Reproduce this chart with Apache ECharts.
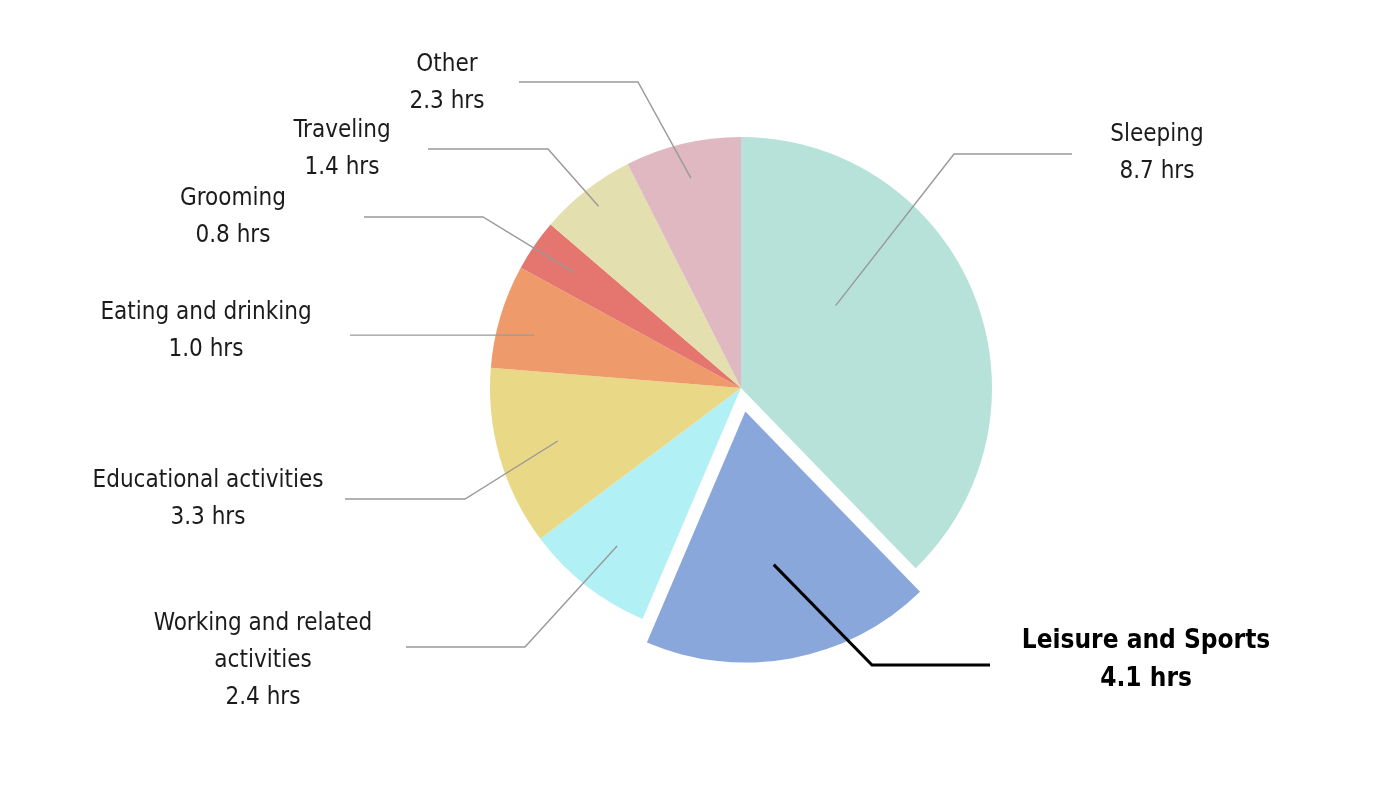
<!DOCTYPE html>
<html>
<head>
<meta charset="utf-8">
<title>Hours per day</title>
<script src="https://cdn.jsdelivr.net/npm/echarts@6/dist/echarts.min.js"></script>
<style>
html, body { margin: 0; padding: 0; background: #fff; }
#main { width: 1396px; height: 794px; }
</style>
</head>
<body>
<div id="main"></div>
<script>
// slices, clockwise from 12 o'clock
var activities = ['Sleeping', 'Leisure and Sports', 'Working and related\nactivities', 'Educational activities',
	'Eating and drinking', 'Grooming', 'Traveling', 'Other'];
// hours printed on the labels
var labelHours = [8.7, 4.1, 2.4, 3.3, 1.0, 0.8, 1.4, 2.3];
// hours as drawn
var sliceHours = [9.06, 4.48, 2.0, 2.77, 1.6, 0.8, 1.5, 1.79];
var highlight = 1;

var palette = ['#b6e2da', '#8aa7db', '#b1f0f5', '#e9d986', '#ef9a6b', '#e4766f', '#e4dfae', '#e0b8c2'];

// label placement: f = line start as fraction of radius, turn = degrees away from mid angle,
// elbow (null = straight line), end x of the line, text centre
var spots = [
	{ f: 0.50, turn: -19, elbow: [954, 154], endX: 1072, text: [1157, 153] },
	{ f: 0.62, turn: 0,   elbow: [872, 665], endX: 990,  text: [1146, 660] },
	{ f: 0.80, turn: 0,   elbow: [525, 647], endX: 406,  text: [263, 661] },
	{ f: 0.76, turn: 0,   elbow: [465, 499], endX: 345,  text: [208, 499] },
	{ f: 0.85, turn: -2.3, elbow: null,      endX: 350,  text: [206, 331] },
	{ f: 0.81, turn: 0,   elbow: [483, 217], endX: 364,  text: [233, 217] },
	{ f: 0.92, turn: 0,   elbow: [548, 149], endX: 428,  text: [342, 149] },
	{ f: 0.86, turn: 0,   elbow: [638, 82],  endX: 519,  text: [447, 83] }
];

var FONT = "'Liberation Sans Narrow', 'DejaVu Sans Condensed', 'Roboto', sans-serif";
var CX = 741, CY = 388, R = 251, OFFSET = 24;

var chart = echarts.init(document.getElementById('main'));

// visible slices
var sliceData = activities.map(function (name, i) {
	return {
		name: name,
		value: sliceHours[i],
		selected: i === highlight,
		itemStyle: { color: palette[i] },
		select: { itemStyle: { color: palette[i], borderWidth: 0 } }
	};
});

// same slices, transparent, only used to carry labels and leader lines on top
var labelData = activities.map(function (name, i) {
	var item = { name: name, value: sliceHours[i] };
	if (i === highlight) {
		item.label = { fontWeight: 'bold', fontSize: 26, lineHeight: 38, color: '#000' };
		item.labelLine = { lineStyle: { color: '#000', width: 3 } };
	}
	return item;
});

var common = {
	type: 'pie',
	center: [CX, CY],
	radius: [0, R],
	startAngle: 90,
	clockwise: true,
	avoidLabelOverlap: false,
	emphasis: { disabled: true }
};

var option = {
	animation: false,
	backgroundColor: '#fff',
	series: [
		echarts.util.merge({
			z: 2,
			selectedMode: 'single',
			selectedOffset: OFFSET,
			itemStyle: { borderWidth: 0 },
			label: { show: false },
			labelLine: { show: false },
			data: sliceData
		}, common),
		echarts.util.merge({
			z: 5,
			silent: true,
			itemStyle: { color: 'rgba(0,0,0,0)', borderWidth: 0 },
			label: {
				show: true,
				position: 'outside',
				fontFamily: FONT,
				fontSize: 24,
				lineHeight: 37,
				color: '#1b1b1b',
				formatter: function (p) {
					return p.name + '\n' + labelHours[p.dataIndex].toFixed(1) + ' hrs';
				}
			},
			labelLine: {
				show: true,
				length: 20,
				length2: 20,
				lineStyle: { color: '#999', width: 1.4 }
			},
			labelLayout: function (p) {
				var s = spots[p.dataIndex];
				var a = p.labelLinePoints ? p.labelLinePoints[0] : [CX, CY];
				var vx = a[0] - CX, vy = a[1] - CY;
				var len = Math.sqrt(vx * vx + vy * vy) || 1;
				var t = s.turn * Math.PI / 180;
				var ux = (vx * Math.cos(t) - vy * Math.sin(t)) / len;
				var uy = (vx * Math.sin(t) + vy * Math.cos(t)) / len;
				// the highlighted slice is pulled out, so its line starts further out too
				var shiftX = p.dataIndex === highlight ? OFFSET * vx / len : 0;
				var shiftY = p.dataIndex === highlight ? OFFSET * vy / len : 0;
				var start = [CX + s.f * len * ux + shiftX, CY + s.f * len * uy + shiftY];
				var elbow = s.elbow ? s.elbow.slice() : start.slice();
				return {
					x: s.text[0],
					y: s.text[1],
					align: 'center',
					verticalAlign: 'middle',
					labelLinePoints: [start, elbow, [s.endX, elbow[1]]]
				};
			},
			data: labelData
		}, common)
	]
};

chart.setOption(option);
</script>
</body>
</html>
